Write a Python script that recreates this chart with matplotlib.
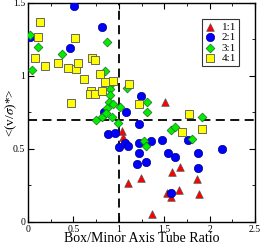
import matplotlib
matplotlib.use("Agg")
import matplotlib.pyplot as plt
from matplotlib.ticker import MultipleLocator, FormatStrFormatter

plt.rcParams['font.family'] = ['Liberation Serif', 'DejaVu Serif']
plt.rcParams['mathtext.fontset'] = 'stix'

# 1:1 tubes
x_11 = [1.51, 1.04, 1.045, 1.10, 1.24, 1.58, 1.67, 1.86, 1.36, 1.66, 1.53, 1.57, 1.88]
y_11 = [0.82, 0.62, 0.58, 0.27, 0.30, 0.34, 0.375, 0.295, 0.055, 0.22, 0.20, 0.17, 0.19]

# 2:1 tubes
x_21 = [0.505, 0.81, 0.02, 0.46, 1.24, 0.835, 1.077, 1.22, 0.88, 0.955, 1.0, 1.065, 1.10,
        1.22, 1.35, 1.48, 1.22, 1.205, 1.30, 1.54, 1.615, 1.76, 1.87, 2.14, 1.87, 1.57]
y_21 = [1.48, 1.335, 1.27, 1.19, 0.86, 0.75, 0.75, 0.67, 0.60, 0.61, 0.51, 0.54, 0.52,
        0.54, 0.555, 0.56, 0.47, 0.40, 0.41, 0.47, 0.445, 0.56, 0.47, 0.50, 0.37, 0.20]

# 3:1 tubes
x_31 = [0.02, 0.11, 0.37, 0.045, 0.87, 0.845, 0.92, 0.90, 0.90, 1.09, 0.89, 0.94, 0.87, 1.01,
        1.31, 1.31, 0.745, 0.81, 0.86, 0.93, 0.99, 1.57, 1.62, 1.275, 1.30, 1.81, 1.92]
y_31 = [1.28, 1.20, 1.15, 1.04, 1.23, 1.035, 0.95, 0.91, 0.87, 0.92, 0.82, 0.81, 0.78, 0.79,
        0.82, 0.75, 0.695, 0.72, 0.745, 0.72, 0.68, 0.63, 0.65, 0.555, 0.52, 0.57, 0.72]

# 4:1 tubes
x_41 = [0.13, 0.11, 0.52, 0.08, 0.19, 0.33, 0.44, 0.53, 0.55, 0.70, 0.735, 0.79, 0.615,
        0.845, 0.935, 0.69, 0.68, 0.735, 0.81, 0.47, 1.11, 1.22, 1.77, 1.70, 1.91]
y_41 = [1.37, 1.27, 1.26, 1.12, 1.07, 1.09, 1.055, 1.05, 1.09, 1.125, 1.11, 1.01, 0.98,
        0.96, 0.965, 0.90, 0.875, 0.875, 0.90, 0.815, 0.945, 0.81, 0.74, 0.615, 0.64]

fig = plt.figure(figsize=(2.63, 2.45), dpi=100)
ax = fig.add_axes([0.1065, 0.094, 0.8635, 0.894])

# reference lines
ax.axvline(1.0, color='black', lw=1.3, ls=(0, (5, 3)), zorder=1)
ax.axhline(0.7, color='black', lw=1.3, ls=(0, (5, 3)), zorder=1)

ms = 30
ax.scatter(x_11, y_11, marker='^', s=ms, c='#ff0000', edgecolors='#555555', linewidths=0.5, label='1:1', zorder=3)
ax.scatter(x_21, y_21, marker='o', s=ms + 6, c='#0000ff', edgecolors='#000080', linewidths=0.5, label='2:1', zorder=3)
ax.scatter(x_31, y_31, marker='D', s=ms - 10, c='#00ee00', edgecolors='#226622', linewidths=0.5, label='3:1', zorder=3)
ax.scatter(x_41, y_41, marker='s', s=ms - 2, c='#ffff00', edgecolors='#666666', linewidths=0.7, label='4:1', zorder=3)

ax.set_xlim(0, 2.5)
ax.set_ylim(0, 1.5)
ax.xaxis.set_major_locator(MultipleLocator(0.5))
ax.xaxis.set_minor_locator(MultipleLocator(0.25))
ax.yaxis.set_major_locator(MultipleLocator(0.5))
ax.yaxis.set_minor_locator(MultipleLocator(0.25))
ax.xaxis.set_major_formatter(FormatStrFormatter('%g'))
ax.yaxis.set_major_formatter(FormatStrFormatter('%g'))
ax.tick_params(which='both', direction='in', top=True, right=True, labelsize=7, pad=2)
ax.tick_params(which='major', length=4)
ax.tick_params(which='minor', length=2)
for s in ax.spines.values():
    s.set_linewidth(1.0)

ax.set_xlabel('Box/Minor Axis Tube Ratio', fontsize=10, labelpad=-1)
ax.set_ylabel(r'<(v/$\sigma$)*>', fontsize=9.5)
ax.yaxis.set_label_coords(-0.04, 0.5)

leg = ax.legend(loc='upper right', fontsize=8, frameon=True, fancybox=False,
                edgecolor='black', handletextpad=0.5, borderpad=0.3,
                labelspacing=0.05, handlelength=1.0, borderaxespad=0,
                bbox_to_anchor=(0.93, 0.927))
leg.get_frame().set_linewidth(0.8)

fig.savefig('out.png', dpi=100)
